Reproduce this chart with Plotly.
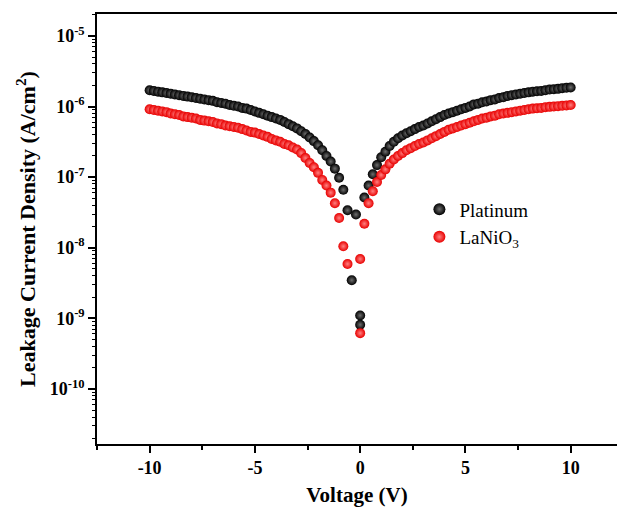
import plotly.graph_objects as go

# Bias sweep (V): 0.2 V steps on each branch, plus the points around 0 V
v_neg_pt = [round(-10 + 0.2 * i, 1) for i in range(48)]          # -10.0 ... -0.6
v_mid_pt = [-0.4, -0.2, 0.0, 0.0, 0.2]
v_pos_pt = [round(0.4 + 0.2 * i, 1) for i in range(49)]          # 0.4 ... 10.0

v_neg_ln = [round(-10 + 0.2 * i, 1) for i in range(48)]
v_mid_ln = [0.0, 0.0, 0.2]
v_pos_ln = [round(0.4 + 0.2 * i, 1) for i in range(49)]

# log10 of leakage current density (A/cm^2), Platinum bottom electrode
log_j_pt_neg = [-5.77, -5.78, -5.79, -5.80, -5.81, -5.82, -5.83, -5.84, -5.85, -5.86,
                -5.87, -5.88, -5.89, -5.90, -5.91, -5.92, -5.94, -5.95, -5.96, -5.98,
                -5.99, -6.00, -6.02, -6.03, -6.05, -6.07, -6.09, -6.11, -6.13, -6.15,
                -6.17, -6.19, -6.22, -6.25, -6.28, -6.31, -6.35, -6.39, -6.44, -6.49,
                -6.55, -6.62, -6.70, -6.78, -6.88, -7.01, -7.18, -7.47]
log_j_pt_mid = [-8.46, -7.53, -8.96, -9.09, -7.29]
log_j_pt_pos = [-7.12, -6.96, -6.83, -6.72, -6.64, -6.56, -6.50, -6.45, -6.41, -6.38,
                -6.35, -6.32, -6.29, -6.27, -6.24, -6.21, -6.18, -6.15, -6.12, -6.10,
                -6.08, -6.06, -6.04, -6.02, -6.00, -5.97, -5.96, -5.94, -5.93, -5.91,
                -5.90, -5.88, -5.87, -5.85, -5.84, -5.83, -5.82, -5.81, -5.80, -5.79,
                -5.785, -5.78, -5.77, -5.76, -5.755, -5.75, -5.74, -5.735, -5.73]

# log10 of leakage current density (A/cm^2), LaNiO3 bottom electrode
log_j_ln_neg = [-6.04, -6.05, -6.06, -6.07, -6.08, -6.10, -6.11, -6.12, -6.14, -6.15,
                -6.16, -6.17, -6.19, -6.20, -6.21, -6.22, -6.24, -6.25, -6.27, -6.28,
                -6.29, -6.30, -6.32, -6.34, -6.36, -6.37, -6.39, -6.41, -6.43, -6.46,
                -6.48, -6.50, -6.53, -6.55, -6.58, -6.61, -6.66, -6.73, -6.80, -6.86,
                -6.94, -7.04, -7.12, -7.22, -7.37, -7.58, -7.98, -8.23]
log_j_ln_mid = [-8.16, -9.21, -7.66]
log_j_ln_pos = [-7.37, -7.20, -7.07, -6.97, -6.89, -6.81, -6.75, -6.70, -6.66, -6.62,
                -6.59, -6.56, -6.53, -6.51, -6.48, -6.45, -6.42, -6.39, -6.36, -6.33,
                -6.31, -6.29, -6.27, -6.25, -6.23, -6.21, -6.19, -6.17, -6.16, -6.14,
                -6.13, -6.11, -6.10, -6.09, -6.08, -6.07, -6.06, -6.05, -6.04, -6.03,
                -6.025, -6.02, -6.01, -6.005, -6.0, -5.995, -5.99, -5.985, -5.98]

x_ticks = [-10, -5, 0, 5, 10]
y_exponents = [-10, -9, -8, -7, -6, -5]

v_pt = v_neg_pt + v_mid_pt + v_pos_pt
j_pt = [10 ** e for e in log_j_pt_neg + log_j_pt_mid + log_j_pt_pos]
v_ln = v_neg_ln + v_mid_ln + v_pos_ln
j_ln = [10 ** e for e in log_j_ln_neg + log_j_ln_mid + log_j_ln_pos]

serif = "Liberation Serif, Times New Roman, serif"

fig = go.Figure()
fig.add_trace(go.Scatter(
    x=v_pt, y=j_pt, mode="markers", name="Platinum",
    marker=dict(size=10, color="#000000", line=dict(width=0),
                gradient=dict(type="radial", color="#6e6e6e")),
))
fig.add_trace(go.Scatter(
    x=v_ln, y=j_ln, mode="markers", name="LaNiO<sub>3</sub>",
    marker=dict(size=10, color="#e80000", line=dict(width=0),
                gradient=dict(type="radial", color="#ff8080")),
))

fig.update_layout(
    width=617, height=507,
    margin=dict(l=97, r=0, t=14, b=63),
    paper_bgcolor="white", plot_bgcolor="white",
    font=dict(family=serif, color="black"),
    showlegend=True,
    legend=dict(x=0.62, y=0.59, xanchor="left", yanchor="top",
                bgcolor="rgba(0,0,0,0)", font=dict(size=19, family=serif),
                itemsizing="constant", tracegroupgap=0),
)

fig.update_xaxes(
    range=[-12.5, 12.2], automargin=False,
    tickvals=x_ticks, ticktext=[str(t) for t in x_ticks],
    ticks="outside", ticklen=7, tickwidth=1.5, tickcolor="black",
    minor=dict(ticks="outside", ticklen=4, tickwidth=1.5, dtick=2.5, tick0=0,
               tickcolor="black", showgrid=False),
    showline=True, linecolor="black", linewidth=1.5, mirror=True,
    showgrid=False, zeroline=False,
    tickfont=dict(size=18, family=serif, weight="bold"),
    title=dict(text="<b>Voltage (V)</b>", font=dict(size=21, family=serif), standoff=20),
)

fig.update_yaxes(
    type="log", range=[-10.78, -4.69], automargin=False,
    tickvals=[10 ** e for e in y_exponents],
    ticktext=[f"<b>10<sup>{e}</sup></b>" for e in y_exponents],
    ticks="outside", ticklen=7, tickwidth=1.5, tickcolor="black",
    minor=dict(ticks="outside", ticklen=3, tickwidth=1, dtick="D1",
               tickcolor="black", showgrid=False),
    showline=True, linecolor="black", linewidth=1.5, mirror=False,
    showgrid=False, zeroline=False,
    tickfont=dict(size=18, family=serif),
    title=dict(text="<b>Leakage Current Density (A/cm<sup>2</sup>)</b>",
               font=dict(size=22, family=serif), standoff=8),
)

fig.write_html("out.html")
